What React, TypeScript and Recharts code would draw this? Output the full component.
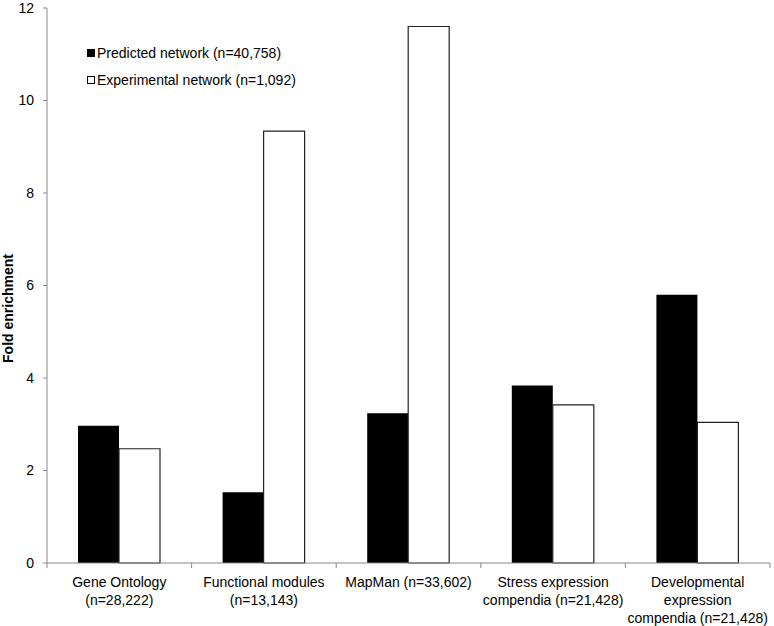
import {BarChart, Bar, XAxis, YAxis, Legend} from 'recharts';

const categories = [
    'Gene Ontology\n(n=28,222)',
    'Functional modules\n(n=13,143)',
    'MapMan (n=33,602)',
    'Stress expression\ncompendia (n=21,428)',
    'Developmental\nexpression\ncompendia (n=21,428)',
];
const predicted = [2.97, 1.53, 3.24, 3.84, 5.8];
const experimental = [2.47, 9.34, 11.6, 3.42, 3.04];
const yTicks = [0, 2, 4, 6, 8, 10, 12];

const SERIES_NAMES = {
    predicted: 'Predicted network (n=40,758)',
    experimental: 'Experimental network (n=1,092)',
};
const LEGEND_ORDER = [SERIES_NAMES.predicted, SERIES_NAMES.experimental];

const data = categories.map((name, i) => ({
    name,
    predicted: predicted[i],
    experimental: experimental[i],
}));

const FONT = '"Liberation Sans", Arial, Helvetica, sans-serif';
const AXIS_COLOR = '#888';

function CategoryTick(props: any) {
    const {x, y, payload} = props;
    const lines = String(payload.value).split('\n');
    const half = payload.offset ?? 0;
    const last = payload.index === categories.length - 1;
    return (
        <g>
            <line x1={x - half} y1={y} x2={x - half} y2={y + 5} stroke={AXIS_COLOR} />
            {last && <line x1={x + half} y1={y} x2={x + half} y2={y + 5} stroke={AXIS_COLOR} />}
            <text x={x} y={y + 24} textAnchor="middle" fontSize={14} fill="#000" fontFamily={FONT}>
                {lines.map((line, i) => (
                    <tspan key={i} x={x} dy={i === 0 ? 0 : 18}>
                        {line}
                    </tspan>
                ))}
            </text>
        </g>
    );
}

function YTitle(props: any) {
    const {viewBox} = props;
    const cy = viewBox.y + viewBox.height / 2 + 23;
    return (
        <text
            x={13}
            y={cy}
            transform={`rotate(-90, 13, ${cy})`}
            textAnchor="middle"
            fontSize={14}
            fontWeight="bold"
            fill="#000"
            fontFamily={FONT}
        >
            Fold enrichment
        </text>
    );
}

function LegendBox(props: any) {
    const items = [...(props.payload ?? [])].sort(
        (a: any, b: any) => LEGEND_ORDER.indexOf(a.value) - LEGEND_ORDER.indexOf(b.value),
    );
    return (
        <div style={{fontFamily: FONT, fontSize: 14, color: '#000'}}>
            {items.map((entry: any) => (
                <div key={entry.value} style={{display: 'flex', alignItems: 'center', height: 27}}>
                    <span
                        style={{
                            display: 'inline-block',
                            width: 8,
                            height: 8,
                            background: entry.color,
                            border: '1px solid #000',
                            boxSizing: 'border-box',
                            marginRight: 2,
                        }}
                    />
                    <span>{entry.value}</span>
                </div>
            ))}
        </div>
    );
}

export default function App() {
    return (
        <div style={{position: 'absolute', left: 0, top: 0, background: '#fff'}}>
            <BarChart
                width={774}
                height={626}
                data={data}
                margin={{top: 8, right: 4, left: 0, bottom: 0}}
                barCategoryGap={31}
                barGap={0}
            >
                <XAxis
                    dataKey="name"
                    interval={0}
                    height={63}
                    tickSize={0}
                    tickMargin={0}
                    tickLine={false}
                    stroke={AXIS_COLOR}
                    tick={<CategoryTick />}
                />
                <YAxis
                    width={47}
                    domain={[0, 12]}
                    ticks={yTicks}
                    tickSize={4}
                    tickMargin={9}
                    stroke={AXIS_COLOR}
                    tick={{fill: '#000', fontSize: 14, fontFamily: FONT}}
                    label={<YTitle />}
                />
                <Legend
                    layout="vertical"
                    align="center"
                    verticalAlign="middle"
                    wrapperStyle={{left: 87, top: 39, width: 'auto'}}
                    content={<LegendBox />}
                />
                <Bar
                    dataKey="predicted"
                    name={SERIES_NAMES.predicted}
                    fill="#000"
                    isAnimationActive={false}
                />
                <Bar
                    dataKey="experimental"
                    name={SERIES_NAMES.experimental}
                    fill="#fff"
                    stroke="#222"
                    strokeWidth={1.2}
                    isAnimationActive={false}
                />
            </BarChart>
        </div>
    );
}
